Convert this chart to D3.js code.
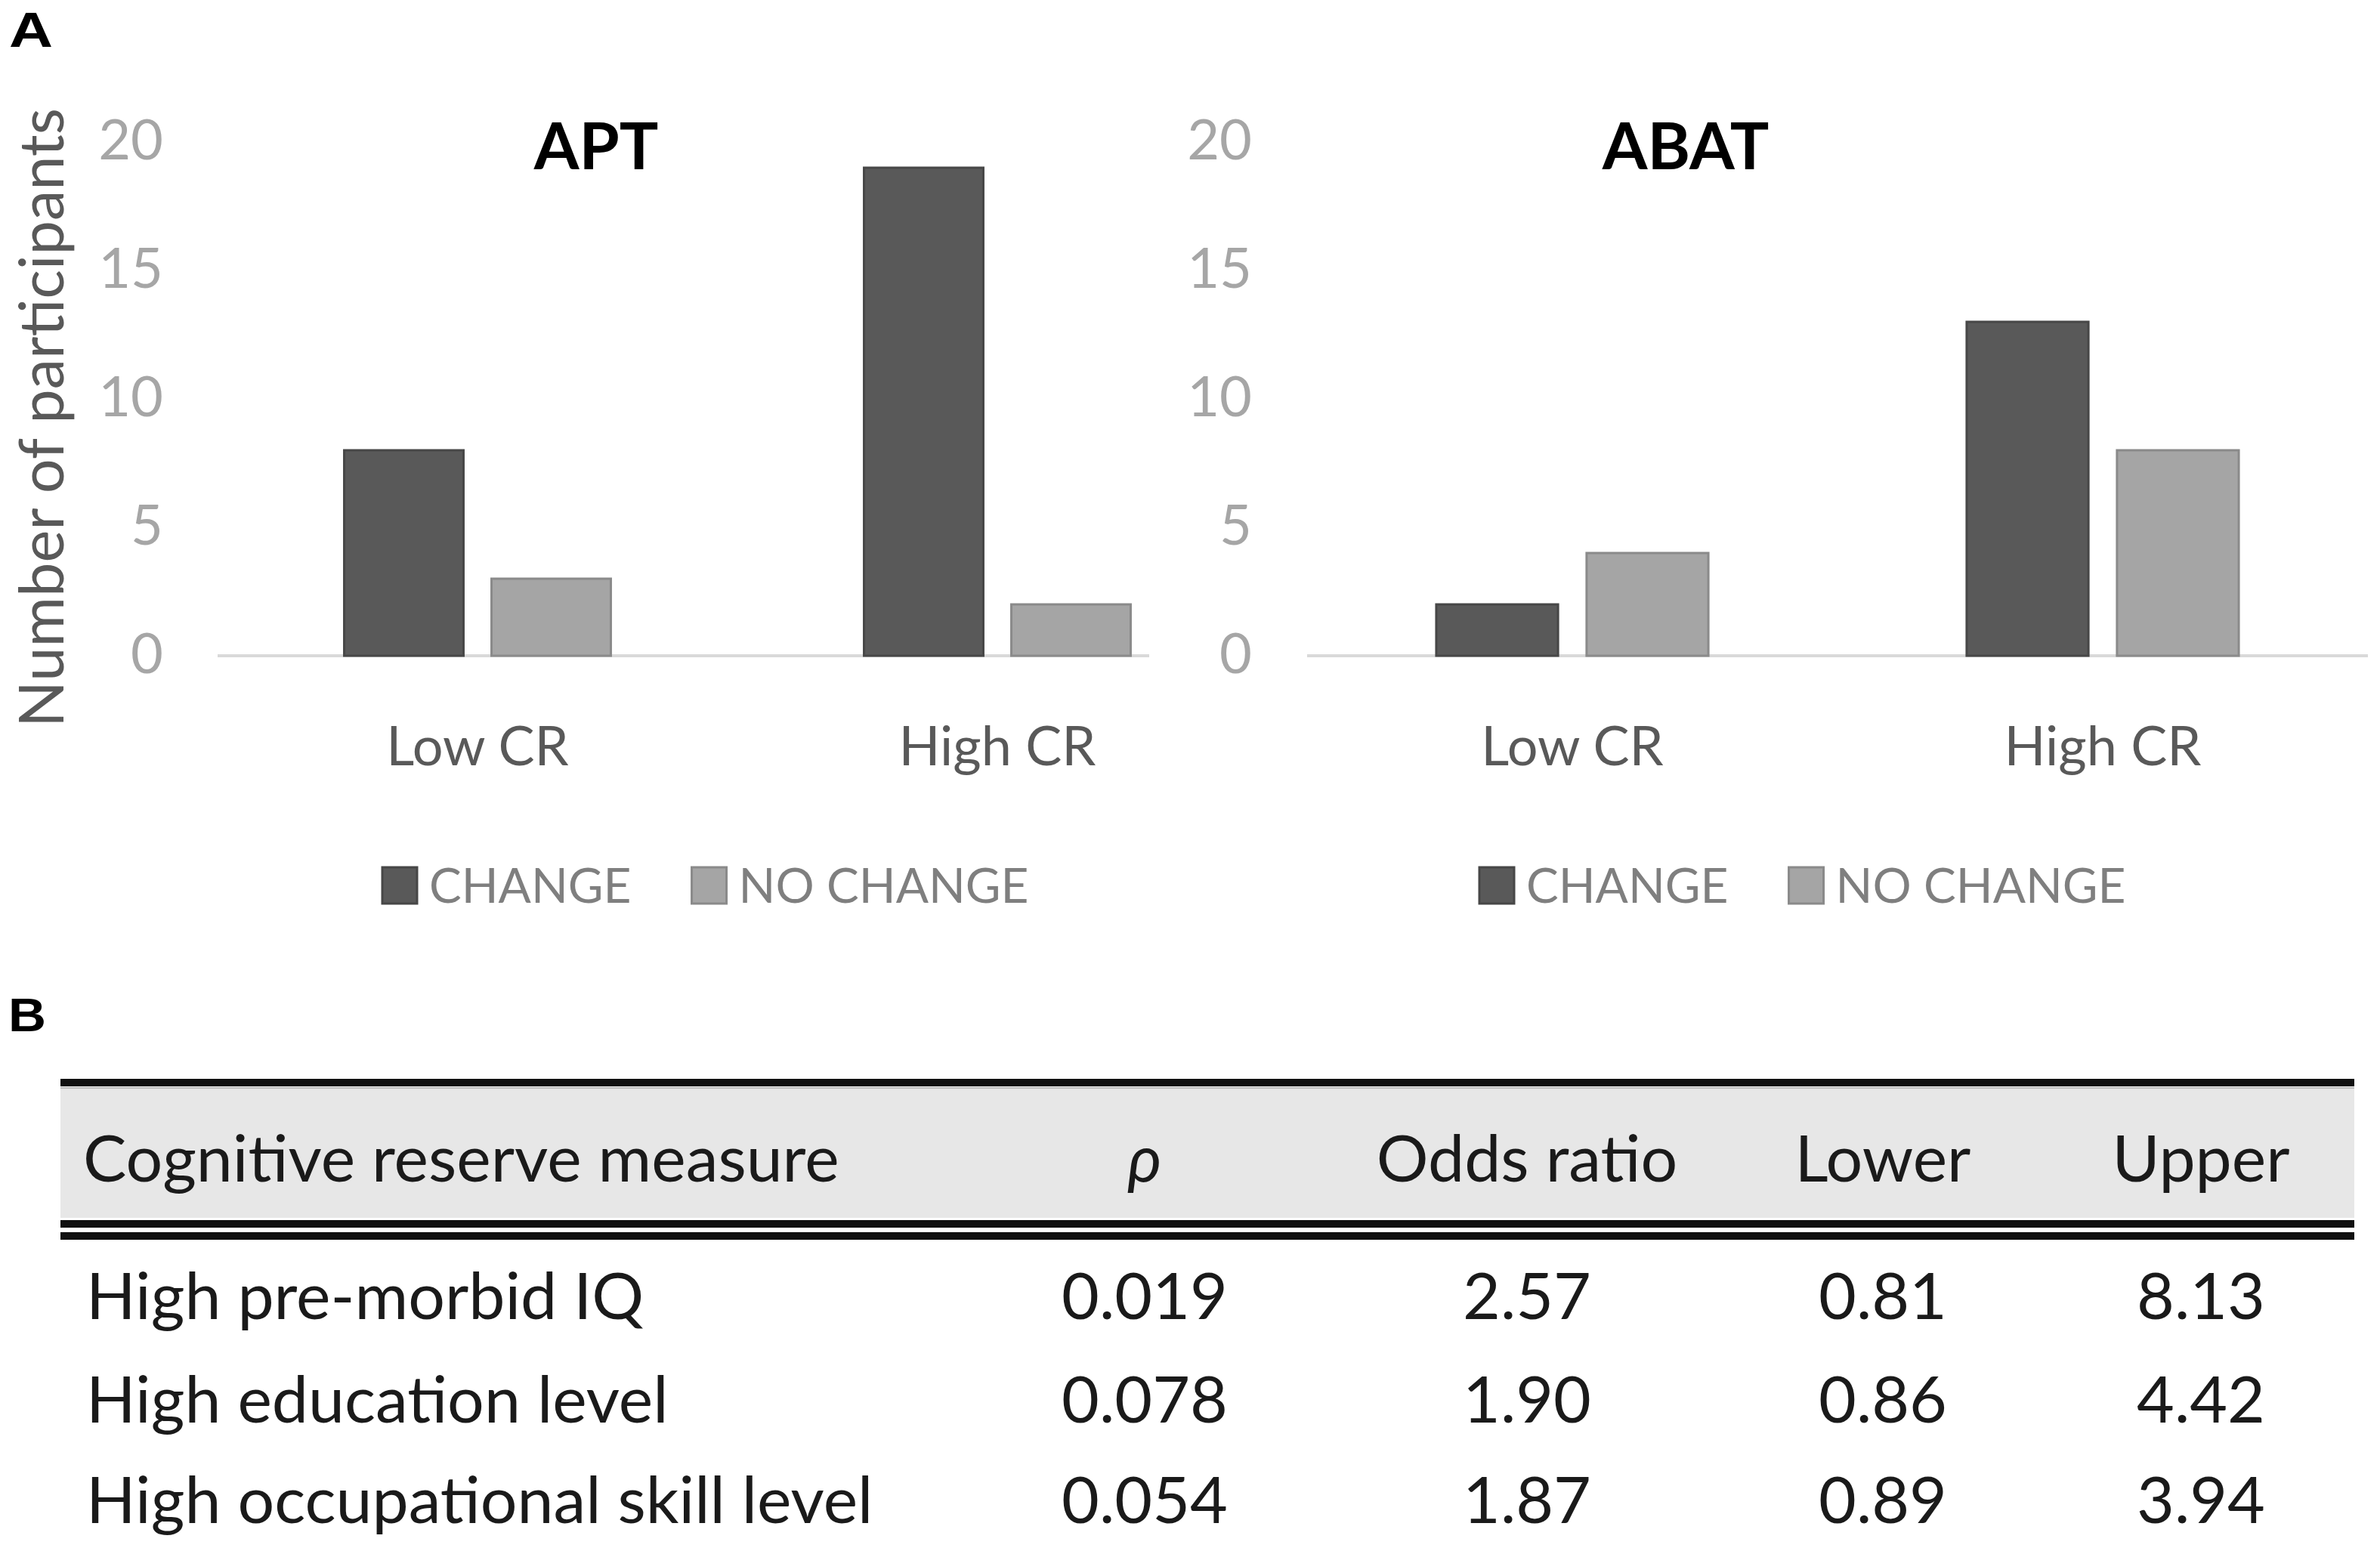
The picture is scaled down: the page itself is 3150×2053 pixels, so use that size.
<!DOCTYPE html>
<html>
<head>
<meta charset="utf-8">
<script src="https://cdn.jsdelivr.net/npm/d3@7"></script>
<style>
  html, body { margin: 0; padding: 0; background: #ffffff; }
  svg { display: block; }
</style>
</head>
<body>
<svg id="fig" width="3150" height="2053"></svg>
<script>
// ---------------- DATA ----------------
const categories = ["Low CR", "High CR"];
const seriesNames = ["CHANGE", "NO CHANGE"];
const aptChange = [8, 19];
const aptNoChange = [3, 2];
const abatChange = [2, 13];
const abatNoChange = [4, 8];
const yTicks = [0, 5, 10, 15, 20];

const tableColumns = ["Cognitive reserve measure", "ρ", "Odds ratio", "Lower", "Upper"];
const measures = ["High pre-morbid IQ", "High education level", "High occupational skill level"];
const pValues = ["0.019", "0.078", "0.054"];
const oddsRatios = ["2.57", "1.90", "1.87"];
const lowerCI = ["0.81", "0.86", "0.89"];
const upperCI = ["8.13", "4.42", "3.94"];

// ---------------- STYLE ----------------
const FONT = "Lato, 'Open Sans', sans-serif";
const colors = { "CHANGE": "#595959", "NO CHANGE": "#a5a5a5" };
const strokes = { "CHANGE": "#474747", "NO CHANGE": "#8a8a8a" };

const svg = d3.select("#fig");

// Panel letters
svg.append("text").attr("x", 12).attr("y", 62)
  .attr("font-family", "'Liberation Sans', Arial, sans-serif").attr("font-weight", "bold")
  .attr("font-size", 64).attr("fill", "#000")
  .attr("textLength", 58).attr("lengthAdjust", "spacingAndGlyphs").text("A");
svg.append("text").attr("x", 11).attr("y", 1365)
  .attr("font-family", "'Liberation Sans', Arial, sans-serif").attr("font-weight", "bold")
  .attr("font-size", 63).attr("fill", "#000")
  .attr("textLength", 50).attr("lengthAdjust", "spacingAndGlyphs").text("B");

// Y axis title
svg.append("text")
  .attr("transform", "translate(84,553) rotate(-90)")
  .attr("text-anchor", "middle")
  .attr("font-family", FONT).attr("font-size", 81).attr("fill", "#595959")
  .text("Number of participants");

function drawChart(cfg) {
  const g = svg.append("g");
  const y = d3.scaleLinear().domain([0, 20]).range([868, 188]);
  const x0 = d3.scaleBand().domain(categories).range([cfg.left, cfg.right])
    .paddingInner(0.487).paddingOuter(0.2435);
  const x1 = d3.scaleBand().domain(seriesNames).range([0, x0.bandwidth()])
    .paddingInner(0.19).paddingOuter(0);

  // y axis (labels only)
  const yAxis = d3.axisLeft(y).tickValues(yTicks).tickSize(0).tickPadding(cfg.left - cfg.tickRight);
  const ag = g.append("g").attr("transform", `translate(${cfg.left},0)`).call(yAxis);
  ag.select(".domain").remove();
  ag.selectAll("text").attr("font-family", FONT).attr("font-size", 74).attr("fill", "#a6a6a6")
    .attr("dy", "0.3em");

  // baseline
  g.append("line").attr("x1", cfg.left).attr("x2", cfg.lineEnd)
    .attr("y1", y(0)).attr("y2", y(0)).attr("stroke", "#d9d9d9").attr("stroke-width", 4);

  // bars
  const rows = categories.map((c, i) => ({ cat: c, vals: [
    { s: "CHANGE", v: cfg.change[i] }, { s: "NO CHANGE", v: cfg.noChange[i] }] }));
  const grp = g.selectAll("g.cat").data(rows).join("g").attr("class", "cat")
    .attr("transform", d => `translate(${x0(d.cat)},0)`);
  grp.selectAll("rect").data(d => d.vals).join("rect")
    .attr("x", d => x1(d.s)).attr("width", x1.bandwidth())
    .attr("y", d => y(d.v)).attr("height", d => y(0) - y(d.v))
    .attr("fill", d => colors[d.s]).attr("stroke", d => strokes[d.s]).attr("stroke-width", 3);

  // category labels
  g.selectAll("text.cat").data(categories).join("text").attr("class", "cat")
    .attr("x", d => x0(d) + x0.bandwidth() / 2).attr("y", 1013)
    .attr("text-anchor", "middle").attr("font-family", FONT).attr("font-size", 72)
    .attr("fill", "#595959").text(d => d);

  // title
  g.append("text").attr("x", cfg.titleX).attr("y", 224).attr("text-anchor", "middle")
    .attr("font-family", FONT).attr("font-weight", "bold").attr("font-size", 86)
    .attr("fill", "#000").text(cfg.title);

  // legend
  const lg = g.append("g").attr("transform", `translate(${cfg.legendX},0)`);
  let cx = 0;
  seriesNames.forEach((s, i) => {
    lg.append("rect").attr("x", cx).attr("y", 1148).attr("width", 46).attr("height", 48)
      .attr("fill", colors[s]).attr("stroke", strokes[s]).attr("stroke-width", 3);
    const t = lg.append("text").attr("x", cx + 62).attr("y", 1195)
      .attr("font-family", FONT).attr("font-size", 64).attr("fill", "#7f7f7f").text(s);
    cx += 62 + t.node().getComputedTextLength() + 80;
  });
}

drawChart({ left: 288, right: 1664, lineEnd: 1521, tickRight: 216, title: "APT", titleX: 789,
  change: aptChange, noChange: aptNoChange, legendX: 506 });
drawChart({ left: 1730, right: 3134, lineEnd: 3134, tickRight: 1657, title: "ABAT", titleX: 2231,
  change: abatChange, noChange: abatNoChange, legendX: 1958 });

// ---------------- TABLE ----------------
const tLeft = 80, tRight = 3116;
const colX = [110, 1515, 2021, 2492, 2913];
const tg = svg.append("g");
tg.append("rect").attr("x", tLeft).attr("y", 1441).attr("width", tRight - tLeft).attr("height", 171)
  .attr("fill", "#e7e7e7");
tg.append("rect").attr("x", tLeft).attr("y", 1428).attr("width", tRight - tLeft).attr("height", 10)
  .attr("fill", "#111");
tg.append("rect").attr("x", tLeft).attr("y", 1439).attr("width", tRight - tLeft).attr("height", 2)
  .attr("fill", "#bdbdbd");
tg.append("rect").attr("x", tLeft).attr("y", 1615).attr("width", tRight - tLeft).attr("height", 10)
  .attr("fill", "#111");
tg.append("rect").attr("x", tLeft).attr("y", 1631).attr("width", tRight - tLeft).attr("height", 10)
  .attr("fill", "#111");

tg.selectAll("text.hdr").data(tableColumns).join("text").attr("class", "hdr")
  .attr("x", (d, i) => colX[i]).attr("y", 1564)
  .attr("text-anchor", (d, i) => i === 0 ? "start" : "middle")
  .attr("font-style", (d, i) => i === 1 ? "italic" : "normal")
  .attr("font-family", FONT).attr("font-size", 86).attr("fill", "#1a1a1a").text(d => d);

const rowY = [1746, 1883, 2016];
const tableRows = measures.map((m, i) => [m, pValues[i], oddsRatios[i], lowerCI[i], upperCI[i]]);
tableRows.forEach((r, ri) => {
  tg.selectAll(null).data(r).join("text")
    .attr("x", (d, i) => colX[i] + (i === 0 ? 4 : 0)).attr("y", rowY[ri])
    .attr("text-anchor", (d, i) => i === 0 ? "start" : "middle")
    .attr("font-family", FONT).attr("font-size", 86).attr("fill", "#1a1a1a").text(d => d);
});
</script>
</body>
</html>
